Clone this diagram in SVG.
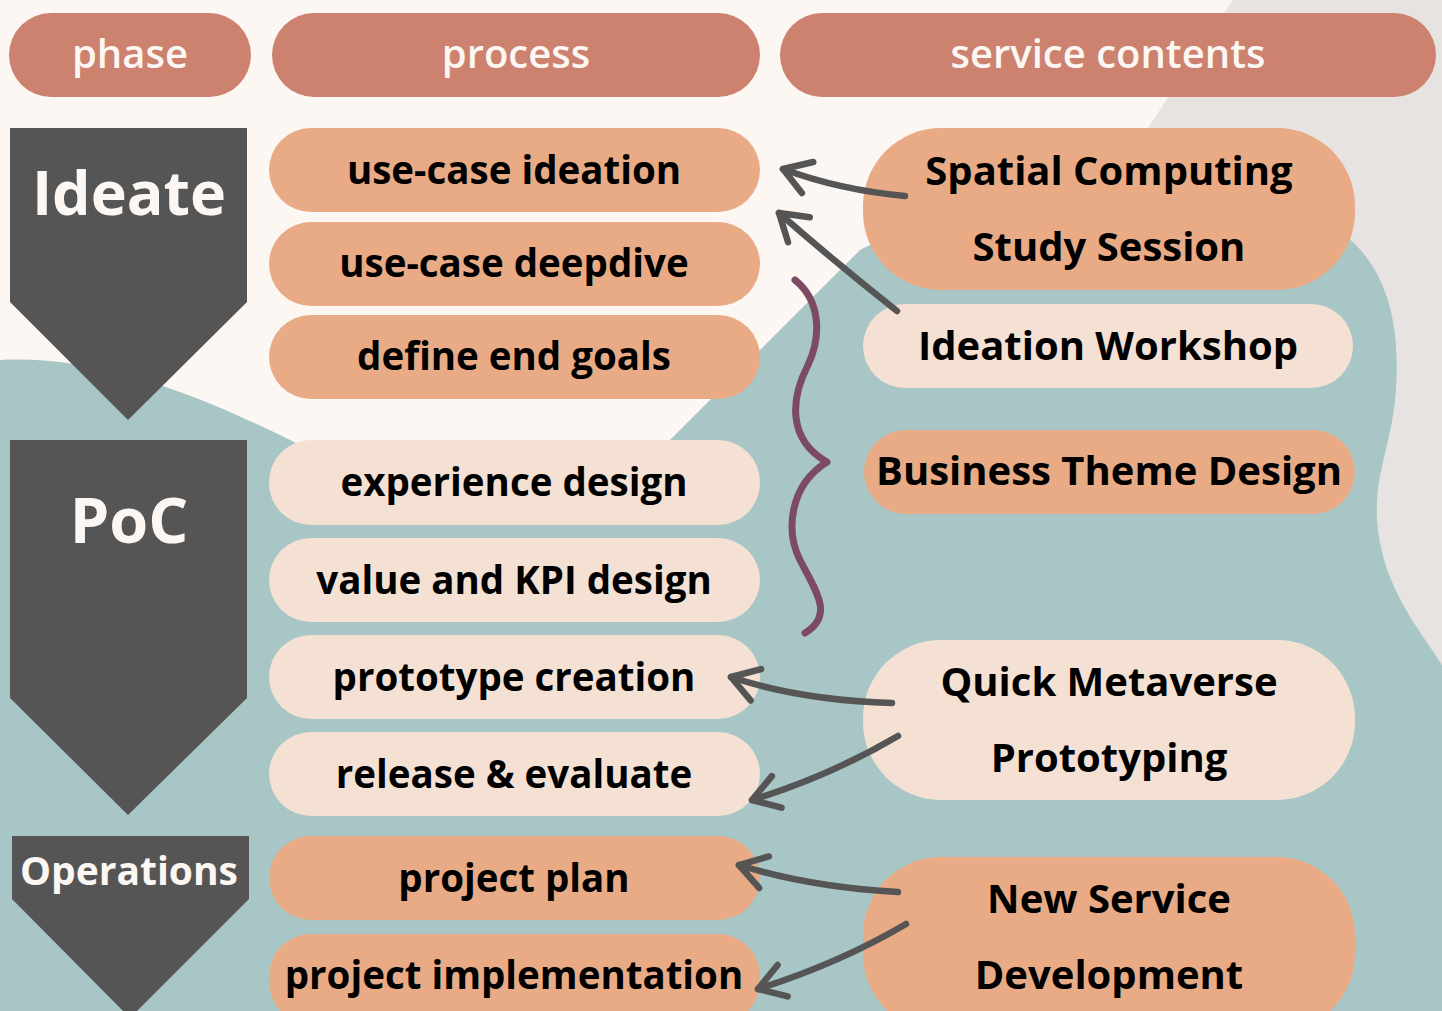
<svg xmlns="http://www.w3.org/2000/svg" width="1442" height="1011" viewBox="0 0 1442 1011">
<defs>
<style>
.hdr{fill:#cd8270}
.hdrt{fill:#fcf7f3;font-family:"Open Sans","Liberation Sans",sans-serif;font-weight:600;font-size:40px;text-anchor:middle}
.phase{fill:#555555}
.phaset{fill:#fcf7f3;font-family:"Open Sans","Liberation Sans",sans-serif;font-weight:700;text-anchor:middle}
.org{fill:#e8ab85}
.lt{fill:#f4e1d4}
.nt{fill:#000;font-family:"Open Sans","Liberation Sans",sans-serif;font-weight:700;font-size:40px;text-anchor:middle}
.pt{font-size:38.5px}
.arr{fill:none;stroke:#555555;stroke-width:6.5;stroke-linecap:round;stroke-linejoin:round}
</style>
<marker id="head" markerUnits="userSpaceOnUse" markerWidth="60" markerHeight="60" viewBox="-40 -30 60 60" refX="0" refY="0" orient="auto-start-reverse" overflow="visible">
<path d="M-26,-16 L0,0 L-26,17" fill="none" stroke="#555555" stroke-width="6.5" stroke-linecap="round" stroke-linejoin="round"/>
</marker>
</defs>
<g id="background">
<rect x="0" y="0" width="1442" height="1011" fill="#fcf7f3"/>
<polygon points="1233,0 1442,0 1442,1011 560,1011" fill="#e6e3e0"/>
<path d="M0,360 C100,355 200,395 300,445 L450,510 L670,440 L860,250 C950,200 1250,180 1330,225 C1390,260 1402,330 1395,400 C1390,450 1372,480 1378,530 C1385,590 1420,630 1442,665 L1442,1011 L0,1011 Z" fill="#a8c6c5"/>
</g>
<g id="header-phase"><rect class="hdr" x="9" y="13" width="242" height="84" rx="42"/><text class="hdrt" x="130" y="68">phase</text></g>
<g id="header-process"><rect class="hdr" x="272" y="13" width="488" height="84" rx="42"/><text class="hdrt" x="516" y="68">process</text></g>
<g id="header-service"><rect class="hdr" x="780" y="13" width="656" height="84" rx="42"/><text class="hdrt" x="1108" y="68">service contents</text></g>
<g id="phase-ideate"><polygon class="phase" points="10,128 247,128 247,302 128,420 10,302"/><text class="phaset" x="129" y="215" font-size="61">Ideate</text></g>
<g id="phase-poc"><polygon class="phase" points="10,440 247,440 247,698 128,815 10,698"/><text class="phaset" x="129" y="543" font-size="63">PoC</text></g>
<g id="phase-operations"><polygon class="phase" points="12,836 249,836 249,899 130,1018 12,899"/><text class="phaset" x="129" y="885" font-size="39">Operations</text></g>
<g id="p-ideation"><rect class="org" x="269" y="128" width="491" height="84" rx="42"/><text class="nt pt" x="514" y="184">use-case ideation</text></g>
<g id="p-deepdive"><rect class="org" x="269" y="222" width="491" height="84" rx="42"/><text class="nt pt" x="514" y="277">use-case deepdive</text></g>
<g id="p-goals"><rect class="org" x="269" y="315" width="491" height="84" rx="42"/><text class="nt pt" x="514" y="370">define end goals</text></g>
<g id="p-experience"><rect class="lt" x="269" y="440" width="491" height="85" rx="42"/><text class="nt pt" x="514" y="496">experience design</text></g>
<g id="p-kpi"><rect class="lt" x="269" y="538" width="491" height="84" rx="42"/><text class="nt pt" x="514" y="594">value and KPI design</text></g>
<g id="p-prototype"><rect class="lt" x="269" y="635" width="491" height="84" rx="42"/><text class="nt pt" x="514" y="691">prototype creation</text></g>
<g id="p-release"><rect class="lt" x="269" y="732" width="491" height="84" rx="42"/><text class="nt pt" x="514" y="788">release &amp; evaluate</text></g>
<g id="p-plan"><rect class="org" x="269" y="836" width="491" height="84" rx="42"/><text class="nt pt" x="514" y="892">project plan</text></g>
<g id="p-implementation"><rect class="org" x="269" y="934" width="491" height="90" rx="42"/><text class="nt pt" x="514" y="989">project implementation</text></g>
<g id="s-spatial"><rect class="org" x="863" y="128" width="492" height="162" rx="78"/><text class="nt" x="1109" y="185">Spatial Computing</text><text class="nt" x="1109" y="261">Study Session</text></g>
<g id="s-workshop"><rect class="lt" x="863" y="304" width="490" height="84" rx="42"/><text class="nt" x="1108" y="360">Ideation Workshop</text></g>
<g id="s-business"><rect class="org" x="864" y="430" width="491" height="84" rx="42"/><text class="nt" x="1109" y="485">Business Theme Design</text></g>
<g id="s-quick"><rect class="lt" x="863" y="640" width="492" height="160" rx="78"/><text class="nt" x="1109" y="696">Quick Metaverse</text><text class="nt" x="1109" y="772">Prototyping</text></g>
<g id="s-newservice"><rect class="org" x="863" y="857" width="492" height="175" rx="78"/><text class="nt" x="1109" y="913">New Service</text><text class="nt" x="1109" y="989">Development</text></g>
<g id="connectors">
<path class="arr" marker-start="url(#head)" d="M783,169 Q840,190 905,196"/>
<path class="arr" marker-start="url(#head)" d="M779,213 Q835,262 897,311"/>
<path class="arr" marker-start="url(#head)" d="M731,677 Q800,700 892,703"/>
<path class="arr" marker-start="url(#head)" d="M752,800 Q830,776 898,736"/>
<path class="arr" marker-start="url(#head)" d="M739,865 Q810,887 898,892"/>
<path class="arr" marker-start="url(#head)" d="M758,989 Q840,963 906,924"/>
<path d="M795,280 C820,300 822,335 808,365 C790,400 788,440 827,462 C790,485 785,530 800,560 C815,590 835,615 805,633" fill="none" stroke="#7d4a63" stroke-width="7" stroke-linecap="round" stroke-linejoin="round"/>
</g>
</svg>
